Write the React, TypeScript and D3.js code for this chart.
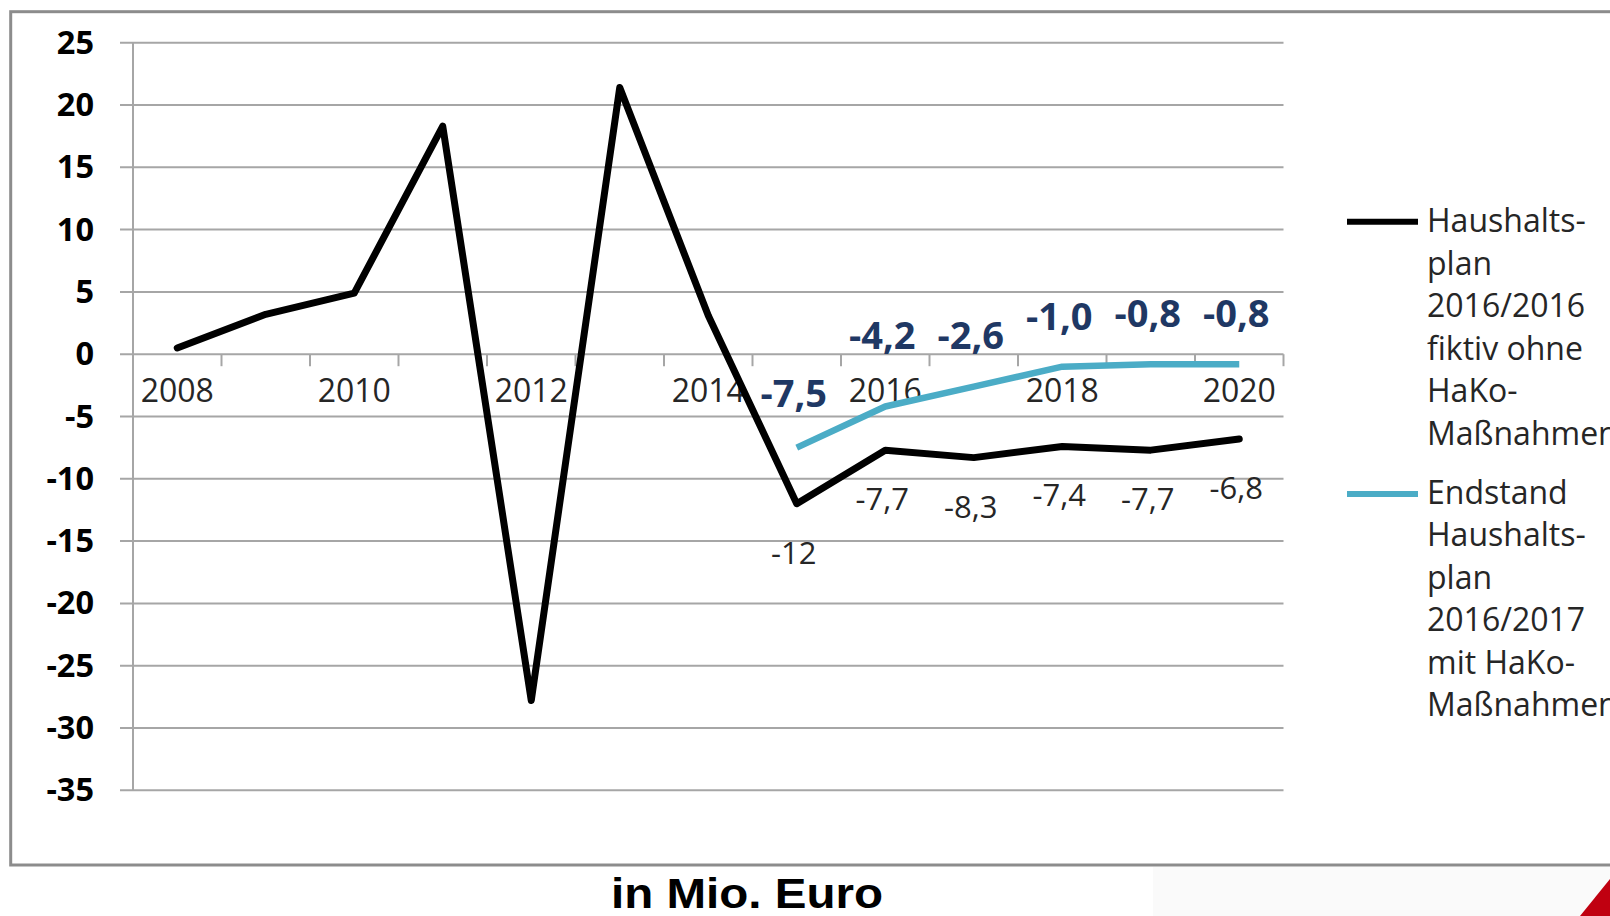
import React from 'react';
import * as d3 from 'd3';

const years = ['2008', '2009', '2010', '2011', '2012', '2013', '2014', '2015', '2016', '2017', '2018', '2019', '2020'];
const planOhne = [0.5, 3.2, 4.9, 18.3, -27.8, 21.4, 3.1, -12, -7.7, -8.3, -7.4, -7.7, -6.8];
const planOhneLabelYears = ['2015', '2016', '2017', '2018', '2019', '2020'];
const endstandYears = ['2015', '2016', '2017', '2018', '2019', '2020'];
const endstand = [-7.5, -4.2, -2.6, -1.0, -0.8, -0.8];
const yTicks = [25, 20, 15, 10, 5, 0, -5, -10, -15, -20, -25, -30, -35];
const xTickLabels = ['2008', '2010', '2012', '2014', '2016', '2018', '2020'];
const legendOhne = ['Haushalts-', 'plan', '2016/2016', 'fiktiv ohne', 'HaKo-', 'Maßnahmen'];
const legendEnd = ['Endstand', 'Haushalts-', 'plan', '2016/2017', 'mit HaKo-', 'Maßnahmen'];
// manual label nudges (baseline offset from point, px)
const endstandLabelDy = [-41, -58, -38, -37, -37, -37];
const planLabelDy = 60;

const W = 1610;
const H = 916;
const BLUE = '#4bacc6';
const NAVY = '#1f3864';
const GRID = '#a6a6a6';

const fmtBlue = (v: number) => v.toFixed(1).replace('.', ',');
const fmtPlan = (v: number) => (Number.isInteger(v) ? String(v) : v.toFixed(1).replace('.', ','));

export default function App() {
  const x = d3.scaleBand<string>().domain(years).range([133, 1283.5]).paddingInner(0).paddingOuter(0);
  const y = d3.scaleLinear().domain([-35, 25]).range([790.3, 42.7]);
  const cx = (yr: string) => (x(yr) as number) + x.bandwidth() / 2;

  const lineGen = d3
    .line<[string, number]>()
    .x((d) => cx(d[0]))
    .y((d) => y(d[1]));

  const planData: [string, number][] = years.map((yr, i) => [yr, planOhne[i]]);
  const endData: [string, number][] = endstandYears.map((yr, i) => [yr, endstand[i]]);

  const y0 = y(0);
  const left = 133;
  const right = 1283.5;
  const boundaries = years.map((yr) => (x(yr) as number) + x.bandwidth());

  return (
    <svg
      width={W}
      height={H}
      viewBox={`0 0 ${W} ${H}`}
      style={{ position: 'absolute', left: 0, top: 0, background: '#fff' }}
    >
      <rect x={0} y={0} width={W} height={H} fill="#ffffff" />
      {/* bottom right decoration */}
      <rect x={1153} y={867} width={457} height={49} fill="#fafafa" />
      <polygon points="1580,916 1610,879 1610,916" fill="#c00010" />

      {/* outer chart frame */}
      <rect x={10.7} y={11.7} width={1640} height={853.3} fill="none" stroke="#8c8c8c" strokeWidth={3} />

      {/* gridlines */}
      {yTicks.map((t) => (
        <line key={'g' + t} x1={120} x2={right} y1={y(t)} y2={y(t)} stroke={GRID} strokeWidth={2} />
      ))}
      {/* y axis line */}
      <line x1={left} x2={left} y1={y(25)} y2={y(-35)} stroke={GRID} strokeWidth={2} />
      {/* x ticks at category boundaries */}
      {boundaries.map((bx, i) => (
        <line key={'t' + i} x1={bx} x2={bx} y1={y0} y2={y0 + 12} stroke={GRID} strokeWidth={2} />
      ))}

      {/* y tick labels */}
      {yTicks.map((t) => (
        <text
          key={'yl' + t}
          x={94}
          y={y(t) + 11}
          textAnchor="end"
          fontFamily="'Open Sans', sans-serif"
          fontWeight={700}
          fontSize={32.5}
          fill="#000"
        >
          {t}
        </text>
      ))}

      {/* x tick labels */}
      {xTickLabels.map((lbl) => (
        <text
          key={'xl' + lbl}
          x={cx(lbl)}
          y={401.7}
          textAnchor="middle"
          fontFamily="'Open Sans', sans-serif"
          fontSize={32}
          fill="#262626"
        >
          {lbl}
        </text>
      ))}

      {/* series lines */}
      <path
        d={lineGen(planData) || ''}
        fill="none"
        stroke="#000"
        strokeWidth={7}
        strokeLinejoin="round"
        strokeLinecap="round"
      />
      <path
        d={lineGen(endData) || ''}
        fill="none"
        stroke={BLUE}
        strokeWidth={6.5}
        strokeLinejoin="round"
        strokeLinecap="butt"
      />

      {/* black data labels */}
      {planOhneLabelYears.map((yr) => {
        const v = planOhne[years.indexOf(yr)];
        return (
          <text
            key={'pl' + yr}
            x={cx(yr) - 3}
            y={y(v) + planLabelDy}
            textAnchor="middle"
            fontFamily="'Open Sans', sans-serif"
            fontSize={31}
            fill="#262626"
          >
            {fmtPlan(v)}
          </text>
        );
      })}

      {/* blue data labels */}
      {endstandYears.map((yr, i) => (
        <text
          key={'el' + yr}
          x={cx(yr) - 3}
          y={y(endstand[i]) + endstandLabelDy[i]}
          textAnchor="middle"
          fontFamily="'Open Sans', sans-serif"
          fontWeight={700}
          fontSize={38}
          fill={NAVY}
        >
          {fmtBlue(endstand[i])}
        </text>
      ))}

      {/* legend */}
      <line x1={1347} x2={1418} y1={221.7} y2={221.7} stroke="#000" strokeWidth={6} />
      {legendOhne.map((s, i) => (
        <text
          key={'lo' + i}
          x={1427}
          y={232 + i * 42.5}
          fontFamily="'Open Sans', sans-serif"
          fontSize={32}
          fill="#262626"
        >
          {s}
        </text>
      ))}
      <line x1={1347} x2={1418} y1={494} y2={494} stroke={BLUE} strokeWidth={6} />
      {legendEnd.map((s, i) => (
        <text
          key={'le' + i}
          x={1427}
          y={503.5 + i * 42.5}
          fontFamily="'Open Sans', sans-serif"
          fontSize={32}
          fill="#262626"
        >
          {s}
        </text>
      ))}

      {/* unit caption */}
      <text
        x={747}
        y={908}
        textAnchor="middle"
        fontFamily="'Liberation Sans', Arial, sans-serif"
        fontWeight={700}
        fontSize={42}
        textLength={272}
        lengthAdjust="spacingAndGlyphs"
        fill="#000"
      >
        in Mio. Euro
      </text>
    </svg>
  );
}
